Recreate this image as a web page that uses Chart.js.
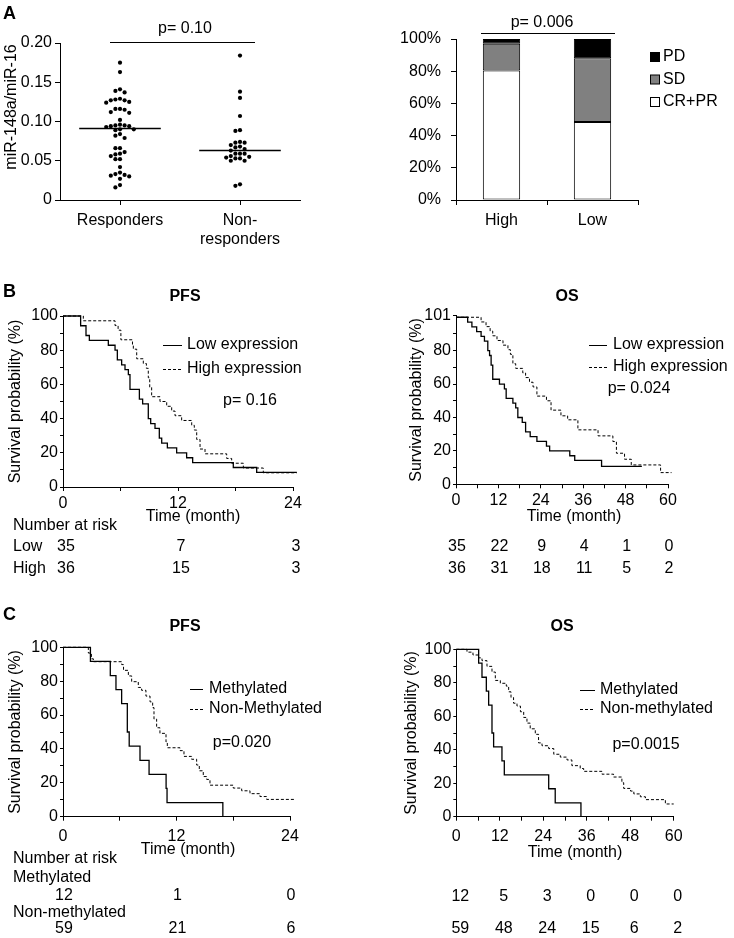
<!DOCTYPE html>
<html>
<head>
<meta charset="utf-8">
<script src="https://cdn.jsdelivr.net/npm/chart.js@4.4.1/dist/chart.umd.min.js"></script>
<style>
  html, body { margin: 0; padding: 0; background: #fff; }
  #fig { position: relative; width: 734px; height: 938px; background: #fff; overflow: hidden;
         font-family: 'Liberation Sans', Arial, sans-serif; color: #000; }
  #fig canvas { position: absolute; }
  .tag { position: absolute; font-weight: bold; font-size: 18px; line-height: 18px; }
</style>
</head>
<body>
<div id="fig">
  <canvas id="cScatter" width="320" height="255" style="left:0;top:0"></canvas>
  <canvas id="cBar" width="364" height="240" style="left:370px;top:0"></canvas>
  <canvas id="cBPfs" width="367" height="300" style="left:0;top:280px"></canvas>
  <canvas id="cBOs" width="334" height="300" style="left:400px;top:280px"></canvas>
  <canvas id="cCPfs" width="367" height="328" style="left:0;top:610px"></canvas>
  <canvas id="cCOs" width="334" height="328" style="left:400px;top:610px"></canvas>
  <div class="tag" style="left:3px;top:4px">A</div>
  <div class="tag" style="left:3px;top:282px">B</div>
  <div class="tag" style="left:3px;top:605px">C</div>
</div>
<script>
// ─── Panel A data ─────────────────────────────────────

const respVals = [0.175, 0.163, 0.141, 0.139, 0.137, 0.129, 0.128, 0.127, 0.127, 0.125, 0.124,
  0.116, 0.116, 0.115, 0.112, 0.111, 0.102, 0.096, 0.095, 0.095, 0.094, 0.094, 0.093, 0.090,
  0.090, 0.089, 0.084, 0.082, 0.079, 0.066, 0.066, 0.061, 0.059, 0.058, 0.056, 0.052, 0.052,
  0.042, 0.035, 0.033, 0.032, 0.031, 0.030, 0.027, 0.019, 0.016];
const nonRespVals = [0.184, 0.138, 0.130, 0.107, 0.089, 0.088, 0.074, 0.073, 0.073, 0.070,
  0.068, 0.067, 0.065, 0.063, 0.059, 0.059, 0.059, 0.056, 0.055, 0.054, 0.053, 0.053, 0.050,
  0.050, 0.020, 0.018];
const groupNames = ['Responders', ['Non-', 'responders']];
const groupMedians = [0.091, 0.063];
const scatterTicks = [0, 0.05, 0.10, 0.15, 0.20];

const expGroups = ['High', 'Low'];
const crprPct = [80.5, 48.5];
const sdPct = [16.5, 39.5];
const pdPct = [3.0, 12.0];
const pctTicks = [0, 20, 40, 60, 80, 100];

// ─── Panel B data (time in months, survival %) ────────

const bPfsLowT  = [0, 1.84, 2.40, 2.75, 4.73, 5.43, 5.67, 6.12, 6.47, 6.82, 6.99, 7.97, 8.31, 8.90, 9.15, 9.60, 10.05, 10.30, 10.89, 11.86, 12.90, 13.53, 17.77, 20.21, 24.4];
const bPfsLowS  = [100, 94.3, 88.6, 85.7, 82.9, 80.0, 74.3, 71.4, 68.6, 65.7, 57.1, 51.4, 48.6, 40.0, 37.1, 34.3, 28.6, 25.7, 22.9, 20.0, 17.1, 14.3, 11.4, 8.6, 8.6];
const bPfsHighT = [0, 2.12, 5.43, 5.75, 6.04, 7.25, 7.34, 7.69, 8.38, 8.70, 8.90, 9.05, 9.25, 10.12, 10.82, 11.34, 11.69, 12.38, 13.43, 13.70, 13.95, 14.30, 14.82, 17.08, 17.60, 18.82, 20.90, 24.4];
const bPfsHighS = [100, 97.2, 94.4, 91.7, 86.1, 83.3, 80.6, 75.0, 72.2, 69.4, 63.9, 58.3, 52.8, 50.0, 47.2, 44.4, 41.7, 38.9, 36.1, 33.3, 27.8, 22.2, 19.4, 16.7, 13.9, 11.1, 8.3, 8.3];

const bOsLowT  = [0, 3.3, 4.5, 5.85, 7.1, 8.05, 9.0, 9.5, 9.94, 10.4, 12.3, 13.7, 14.2, 16.1, 16.9, 17.5, 18.75, 19.7, 21.0, 22.9, 25.6, 26.5, 32.2, 33.6, 41.2, 52.6];
const bOsLowS  = [100, 97.1, 94.3, 91.4, 88.6, 85.7, 80.0, 77.1, 71.4, 62.9, 60.0, 57.1, 51.4, 48.6, 45.7, 40.0, 37.1, 31.4, 28.6, 25.7, 22.9, 20.0, 17.1, 14.3, 10.7, 10.7];
const bOsHighT = [0, 7.1, 8.5, 9.66, 10.4, 11.6, 13.3, 14.7, 15.4, 16.1, 16.9, 18.9, 19.7, 20.8, 21.8, 22.9, 25.6, 26.9, 29.7, 31.6, 34.5, 40.2, 44.4, 45.4, 47.7, 49.6, 57.9, 61.0];
const bOsHighS = [100, 97.2, 94.4, 91.7, 88.9, 86.1, 83.3, 80.6, 77.8, 72.2, 69.4, 66.7, 63.9, 61.1, 58.3, 52.8, 50.0, 44.4, 41.0, 38.6, 32.6, 29.0, 25.6, 18.6, 15.0, 11.6, 7.0, 7.0];

// ─── Panel C data ─────────────────────────────────────

const cPfsMetT = [0, 2.9, 5.0, 5.6, 6.2, 6.8, 7.0, 8.14, 9.1, 10.9, 11.0, 16.9];
const cPfsMetS = [100, 91.7, 83.3, 75.0, 66.7, 50.0, 41.7, 33.3, 25.0, 16.7, 8.3, 0];
const cPfsNonT = [0, 2.68, 3.0, 3.21, 6.20, 6.40, 6.91, 7.26, 7.96, 8.31, 8.77, 9.20, 9.48, 9.62, 9.90, 10.25, 10.89, 11.03, 12.37, 12.79, 13.60, 14.13, 14.41, 14.83, 15.19, 15.54, 18.0, 18.89, 19.77, 20.82, 21.53, 24.5];
const cPfsNonS = [100, 96.6, 93.2, 91.5, 89.8, 86.4, 83.1, 79.7, 76.3, 74.6, 71.2, 67.8, 64.4, 57.6, 52.5, 49.2, 44.1, 40.7, 39.0, 35.6, 33.9, 30.5, 27.1, 23.7, 22.0, 18.6, 16.9, 15.3, 13.6, 11.9, 10.2, 10.2];

const cOsMetT = [0, 6.17, 7.09, 8.29, 8.93, 9.85, 10.3, 12.6, 13.25, 25.5, 27.3, 34.4];
const cOsMetS = [100, 91.7, 83.3, 75.0, 66.7, 50.0, 41.7, 33.3, 25.0, 16.7, 8.3, 0];
const cOsNonT = [0, 2.95, 4.6, 6.17, 7.09, 8.47, 9.85, 10.77, 12.15, 13.8, 14.45, 15.1, 15.8, 16.75, 17.7, 18.6, 19.5, 20.4, 21.8, 22.7, 23.65, 25.5, 26.9, 28.7, 30.55, 31.9, 34.2, 35.15, 40.2, 43.4, 45.7, 46.2, 48.1, 49.0, 50.8, 52.2, 57.7, 60.0];
const cOsNonS = [100, 98.3, 96.6, 94.9, 93.2, 89.8, 86.4, 81.4, 79.7, 78.0, 74.6, 71.2, 67.8, 66.1, 62.7, 59.3, 55.9, 52.5, 49.2, 44.1, 42.4, 40.7, 37.3, 35.6, 33.9, 30.5, 28.8, 27.1, 25.4, 23.7, 20.3, 16.9, 15.3, 13.6, 11.9, 10.2, 7.6, 7.6];

// ─── Number at risk ───────────────────────────────────

const pfsRiskT = [0, 12, 24];
const osRiskT  = [0, 12, 24, 36, 48, 60];
const bPfsRisk = [[35, 7, 3], [36, 15, 3]];
const bOsRisk  = [[35, 22, 9, 4, 1, 0], [36, 31, 18, 11, 5, 2]];
const cPfsRisk = [[12, 1, 0], [59, 21, 6]];
const cOsRisk  = [[12, 5, 3, 0, 0, 0], [59, 48, 24, 15, 6, 2]];

// ─── Defaults / helpers ───────────────────────────────

const FONT = "'Liberation Sans', Arial, Helvetica, sans-serif";
Chart.defaults.font.family = FONT;
Chart.defaults.font.size = 16;
Chart.defaults.color = '#000';
Chart.defaults.animation = false;
Chart.defaults.responsive = false;
Chart.defaults.plugins.legend.display = false;
Chart.defaults.plugins.tooltip.enabled = false;

const axisGrid = { drawOnChartArea: false, color: '#000', lineWidth: 1, tickLength: 4 };
const axisBorder = { color: '#000', width: 1 };

function put(ctx, s, x, y, align, font) {
  ctx.font = font || '16px ' + FONT;
  ctx.textAlign = align || 'center';
  ctx.textBaseline = 'middle';
  ctx.fillText(s, x, y);
}

function hline(ctx, x1, x2, y, dash) {
  ctx.setLineDash(dash || []);
  ctx.beginPath(); ctx.moveTo(x1, y); ctx.lineTo(x2, y); ctx.stroke();
  ctx.setLineDash([]);
}

// simple beeswarm so dots of equal value sit side by side
function swarm(vals, centre) {
  const pxX = 120, pxY = 785, d = 4.6;
  const placed = [];
  vals.slice().sort((a, b) => b - a).forEach(v => {
    for (let k = 0; k < 30; k++) {
      const off = k === 0 ? 0 : (k % 2 ? -1 : 1) * Math.ceil(k / 2);
      const x = centre + off * d / pxX;
      const hit = placed.some(p => Math.hypot((p.x - x) * pxX, (p.y - v) * pxY) < d - 0.3);
      if (!hit) { placed.push({ x, y: v }); break; }
    }
  });
  return placed;
}

// ─── A: scatter ───────────────────────────────────────

const scatterExtras = {
  id: 'scatterExtras',
  afterDraw(chart) {
    const ctx = chart.ctx;
    ctx.save();
    ctx.fillStyle = '#000'; ctx.strokeStyle = '#000'; ctx.lineWidth = 1;
    put(ctx, 'p= 0.10', 185, 29);
    hline(ctx, 110, 255, 42.5);
    ctx.translate(12, 107); ctx.rotate(-Math.PI / 2);
    put(ctx, 'miR-148a/miR-16', 0, 0);
    ctx.restore();
  }
};

const medianLine = (c, m) => ({
  type: 'line', data: [{ x: c - 0.34, y: m }, { x: c + 0.34, y: m }],
  borderColor: '#000', borderWidth: 1.5, pointRadius: 0
});

new Chart(document.getElementById('cScatter'), {
  type: 'scatter',
  data: {
    datasets: [
      { data: swarm(respVals, 1), backgroundColor: '#000', borderWidth: 0, pointRadius: 2.1 },
      { data: swarm(nonRespVals, 2), backgroundColor: '#000', borderWidth: 0, pointRadius: 2.1 },
      medianLine(1, groupMedians[0]),
      medianLine(2, groupMedians[1]),
    ],
  },
  options: {
    layout: { padding: { top: 43, right: 20, left: 0, bottom: 0 } },
    scales: {
      x: {
        type: 'linear', min: 0.5, max: 2.5,
        afterBuildTicks: s => { s.ticks = [{ value: 1 }, { value: 2 }]; },
        ticks: { callback: v => groupNames[v - 1], padding: 6, maxRotation: 0, autoSkip: false },
        grid: { ...axisGrid, tickLength: 5 }, border: axisBorder,
        afterFit: s => { s.height = 55; },
      },
      y: {
        min: 0, max: 0.2,
        afterBuildTicks: s => { s.ticks = scatterTicks.map(v => ({ value: v })); },
        ticks: { callback: v => v === 0 ? '0' : v.toFixed(2), padding: 3 },
        grid: { ...axisGrid, tickLength: 5 }, border: axisBorder,
        afterFit: s => { s.width = 60; },
      },
    },
  },
  plugins: [scatterExtras],
});

// ─── A: stacked response bars ─────────────────────────

const barExtras = {
  id: 'barExtras',
  afterDraw(chart) {
    const ctx = chart.ctx;
    ctx.save();
    ctx.fillStyle = '#000'; ctx.strokeStyle = '#000'; ctx.lineWidth = 1;
    put(ctx, 'p= 0.006', 172, 23);
    hline(ctx, 111, 245, 33.5);
    // legend, top item = last dataset
    chart.data.datasets.slice().reverse().forEach((ds, i) => {
      const y = 57 + i * 22.5;
      ctx.fillStyle = ds.backgroundColor;
      ctx.fillRect(280.5, y - 4.5, 9, 9);
      ctx.strokeRect(280.5, y - 4.5, 9, 9);
      ctx.fillStyle = '#000';
      put(ctx, ds.label, 293, y, 'left');
    });
    ctx.restore();
  }
};

const barSet = (label, data, color) => ({
  label, data, backgroundColor: color, borderColor: '#000', borderWidth: 1, borderSkipped: false
});

new Chart(document.getElementById('cBar'), {
  type: 'bar',
  data: {
    labels: expGroups,
    datasets: [
      barSet('CR+PR', crprPct, '#ffffff'),
      barSet('SD', sdPct, '#808080'),
      barSet('PD', pdPct, '#000000'),
    ],
  },
  options: {
    layout: { padding: { top: 39, right: 96, left: 0, bottom: 0 } },
    datasets: { bar: { barPercentage: 0.41, categoryPercentage: 1 } },
    scales: {
      x: {
        stacked: true,
        ticks: { padding: 6 },
        grid: { ...axisGrid, tickLength: 5, offset: true }, border: axisBorder,
        afterFit: s => { s.height = 40; },
      },
      y: {
        stacked: true, min: 0, max: 100,
        afterBuildTicks: s => { s.ticks = pctTicks.map(v => ({ value: v })); },
        ticks: { callback: v => v + '%', padding: 10 },
        grid: { ...axisGrid, tickLength: 5 }, border: axisBorder,
        afterFit: s => { s.width = 86; },
      },
    },
  },
  plugins: [barExtras],
});

// ─── Kaplan-Meier panels ──────────────────────────────

const kmText = {
  id: 'kmText',
  afterDraw(chart, args, o) {
    const ctx = chart.ctx, xs = chart.scales.x, ca = chart.chartArea;
    const L = o.L, T = o.T;
    ctx.save();
    ctx.fillStyle = '#000'; ctx.strokeStyle = '#000';
    put(ctx, o.title[0], o.title[1] - L, o.title[2] - T, 'center', 'bold 16px ' + FONT);
    o.legend.names.forEach((name, i) => {
      const y = o.legend.ys[i] - T;
      ctx.lineWidth = 1;
      hline(ctx, o.legend.x0 - L, o.legend.x1 - L, y + 0.5, i ? [3, 2] : []);
      put(ctx, name, o.legend.tx - L, y, 'left');
    });
    put(ctx, o.p[0], o.p[1] - L, o.p[2] - T);
    put(ctx, 'Time (month)', o.xTitle[0] - L, o.xTitle[1] - T);
    ctx.save();
    ctx.translate(o.yTitleX - L, (ca.top + ca.bottom) / 2);
    ctx.rotate(-Math.PI / 2);
    put(ctx, 'Survival probability (%)', 0, 0);
    ctx.restore();
    o.notes.forEach(n => put(ctx, n[0], n[1] - L, n[2] - T, 'left'));
    o.risk.forEach((row, r) => row.forEach((n, i) =>
      put(ctx, String(n), xs.getPixelForValue(o.riskT[i]) + o.riskDx, o.riskY[r] - T)));
    ctx.restore();
  }
};

function drawKM(id, L, T, s) {
  const el = document.getElementById(id);
  const W = el.width, H = el.height;
  const datasets = s.curves.map((c, i) => ({
    data: c.t.map((t, k) => ({ x: t, y: c.s[k] })),
    borderColor: '#000', borderWidth: i ? 1 : 1.3, borderDash: i ? [3, 2] : [],
    stepped: true, pointRadius: 0, clip: false, fill: false,
  }));
  new Chart(el, {
    type: 'line',
    data: { datasets },
    options: {
      layout: { padding: { left: 0, bottom: 0, top: s.area.top - T, right: L + W - s.area.right } },
      scales: {
        x: {
          type: 'linear', min: 0, max: s.xMax,
          ticks: { stepSize: 6, callback: v => v % 12 === 0 ? String(v) : '', padding: s.tickPad, maxRotation: 0, autoSkip: false },
          grid: axisGrid, border: axisBorder,
          afterFit: sc => { sc.height = T + H - s.area.bottom; },
        },
        y: {
          min: 0, max: s.yMax,
          afterBuildTicks: sc => { sc.ticks = s.yTicks.map(v => ({ value: v })); },
          ticks: { callback: v => s.yLabels.includes(v) ? String(v) : '', padding: 2, autoSkip: false },
          grid: { ...axisGrid, tickLength: 3 }, border: axisBorder,
          afterFit: sc => { sc.width = s.area.left - L; },
        },
      },
      plugins: { kmText: { L, T, ...s.text } },
    },
    plugins: [kmText],
  });
}

const yTicks100 = [0, 10, 20, 30, 40, 50, 60, 70, 80, 90, 100];
const yLabels100 = [0, 20, 40, 60, 80, 100];

drawKM('cBPfs', 0, 280, {
  area: { left: 63, right: 293, top: 316, bottom: 487 },
  xMax: 24, yMax: 100, yTicks: yTicks100, yLabels: yLabels100, tickPad: 3,
  curves: [{ t: bPfsLowT, s: bPfsLowS }, { t: bPfsHighT, s: bPfsHighS }],
  text: {
    title: ['PFS', 185, 297],
    legend: { names: ['Low expression', 'High expression'], x0: 163, x1: 182, tx: 187, ys: [345, 369] },
    p: ['p= 0.16', 250, 401], xTitle: [193, 517], yTitleX: 16,
    notes: [['Number at risk', 13, 526], ['Low', 13, 547], ['High', 13, 569]],
    risk: bPfsRisk, riskT: pfsRiskT, riskY: [547, 569], riskDx: 3,
  },
});

drawKM('cBOs', 400, 280, {
  area: { left: 456, right: 668, top: 315.6, bottom: 484.3 },
  xMax: 60, yMax: 101, yTicks: [0, 10, 20, 30, 40, 50, 60, 70, 80, 90, 101], yLabels: [0, 20, 40, 60, 80, 101], tickPad: 3,
  curves: [{ t: bOsLowT, s: bOsLowS }, { t: bOsHighT, s: bOsHighS }],
  text: {
    title: ['OS', 567, 297],
    legend: { names: ['Low expression', 'High expression'], x0: 589, x1: 607, tx: 613, ys: [345, 367] },
    p: ['p= 0.024', 639, 389], xTitle: [574, 517], yTitleX: 417,
    notes: [],
    risk: bOsRisk, riskT: osRiskT, riskY: [547, 569], riskDx: 1,
  },
});

drawKM('cCPfs', 0, 610, {
  area: { left: 63, right: 290, top: 647.3, bottom: 816.7 },
  xMax: 24, yMax: 100, yTicks: yTicks100, yLabels: yLabels100, tickPad: 6,
  curves: [{ t: cPfsMetT, s: cPfsMetS }, { t: cPfsNonT, s: cPfsNonS }],
  text: {
    title: ['PFS', 185, 627],
    legend: { names: ['Methylated', 'Non-Methylated'], x0: 190, x1: 203, tx: 209, ys: [689, 709] },
    p: ['p=0.020', 242, 743], xTitle: [188, 850], yTitleX: 16,
    notes: [['Number at risk', 13, 859], ['Methylated', 13, 878], ['Non-methylated', 13, 913]],
    risk: cPfsRisk, riskT: pfsRiskT, riskY: [896, 929], riskDx: 1,
  },
});

drawKM('cCOs', 400, 610, {
  area: { left: 456.3, right: 673.7, top: 649.3, bottom: 816.7 },
  xMax: 60, yMax: 100, yTicks: yTicks100, yLabels: yLabels100, tickPad: 6,
  curves: [{ t: cOsMetT, s: cOsMetS }, { t: cOsNonT, s: cOsNonS }],
  text: {
    title: ['OS', 562, 627],
    legend: { names: ['Methylated', 'Non-methylated'], x0: 580, x1: 595, tx: 600, ys: [690, 709] },
    p: ['p=0.0015', 646, 745], xTitle: [575, 853], yTitleX: 412,
    notes: [],
    risk: cOsRisk, riskT: osRiskT, riskY: [897, 929], riskDx: 4,
  },
});
</script>
</body>
</html>
